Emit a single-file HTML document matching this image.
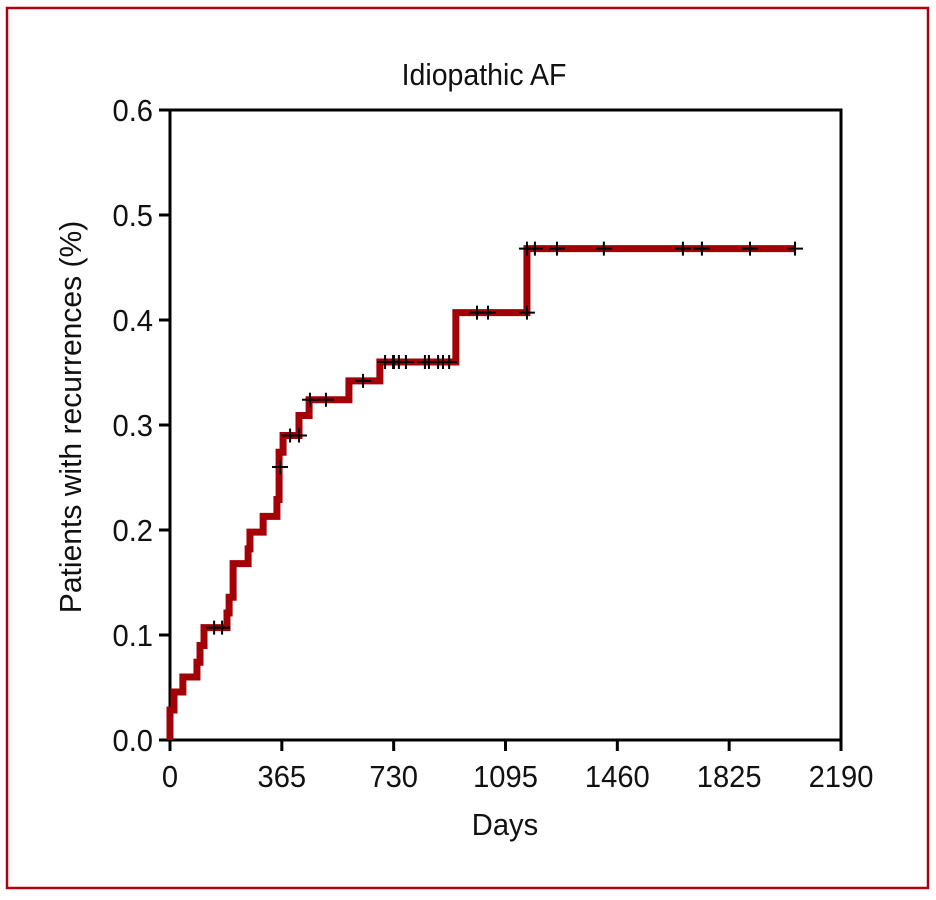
<!DOCTYPE html>
<html><head><meta charset="utf-8"><style>
html,body{margin:0;padding:0;background:#fff;}
svg{display:block;}
text{font-family:"Liberation Sans Narrow","Liberation Sans",sans-serif;fill:#111;}
</style></head><body>
<svg id="chart" width="936" height="900" viewBox="0 0 936 900">
<rect x="7" y="8" width="921" height="880" fill="none" stroke="#b00010" stroke-width="2.5"/>
<text transform="translate(484,85) scale(0.92,1)" font-size="31" text-anchor="middle">Idiopathic AF</text>
<text transform="translate(81,417) rotate(-90) scale(0.97,1)" font-size="31" text-anchor="middle">Patients with recurrences (%)</text>
<text transform="translate(505,835) scale(0.94,1)" font-size="31" text-anchor="middle">Days</text>
<g id="axes"></g>
<g id="series"></g>
<g id="censors"></g>
</svg>
<script>
const xTicks=[0,365,730,1095,1460,1825,2190];
const yTicks=[0,0.1,0.2,0.3,0.4,0.5,0.6];
const yTickLabels=["0.0","0.1","0.2","0.3","0.4","0.5","0.6"];
const stepDays=[0,0,13,42,88,98,111,186,193,206,255,261,304,349,356,369,421,454,584,685,933,1165];
const stepValues=[0,0.0286,0.0457,0.06,0.074,0.09,0.107,0.121,0.136,0.168,0.182,0.198,0.213,0.229,0.274,0.29,0.309,0.324,0.342,0.36,0.407,0.468];
const endDay=2040;
const censorDays=[144,170,359,392,421,457,509,630,702,728,731,747,770,832,845,875,891,911,1002,1038,1165,1165,1191,1263,1416,1674,1736,1893,2040];
const censorValues=[0.107,0.107,0.26,0.29,0.29,0.324,0.324,0.342,0.36,0.36,0.36,0.36,0.36,0.36,0.36,0.36,0.36,0.36,0.407,0.407,0.407,0.468,0.468,0.468,0.468,0.468,0.468,0.468,0.468];
const X0=170,X1=841,Y0=740,Y1=110;
const sx=d=>X0+d*(X1-X0)/2190;
const sy=v=>Y0-v*(Y0-Y1)/0.6;
const NS="http://www.w3.org/2000/svg";
function mk(tag,attrs,parent){const e=document.createElementNS(NS,tag);for(const k in attrs)e.setAttribute(k,attrs[k]);parent.appendChild(e);return e;}
const axes=document.getElementById('axes');
const box=mk('rect',{x:X0,y:Y1,width:X1-X0,height:Y0-Y1,fill:'none',stroke:'#000','stroke-width':3},axes);


xTicks.forEach((t,i)=>{
 const l=mk('line',{x1:sx(t),x2:sx(t),y1:Y0,y2:Y0+11,stroke:'#000','stroke-width':3},axes);
 
 
 const tx=mk('text',{transform:`translate(${sx(t)},787) scale(0.94,1)`,'font-size':31,'text-anchor':'middle'},axes);
 tx.textContent=t;
 
 
});
yTicks.forEach((t,i)=>{
 const l=mk('line',{x1:X0-11,x2:X0,y1:sy(t),y2:sy(t),stroke:'#000','stroke-width':3},axes);
 
 
 const tx=mk('text',{transform:`translate(${X0-17},${sy(t)+11}) scale(0.94,1)`,'font-size':31,'text-anchor':'end'},axes);
 tx.textContent=yTickLabels[i];
 
 
});
let d='M'+sx(stepDays[0])+' '+sy(stepValues[0]);
for(let i=1;i<stepDays.length;i++){d+=' H'+sx(stepDays[i])+' V'+sy(stepValues[i]);}
d+=' H'+sx(endDay);
const p=mk('path',{d:d,fill:'none',stroke:'#a30008','stroke-width':7,'stroke-linejoin':'miter'},document.getElementById('series'));


const cg=document.getElementById('censors');
censorDays.forEach((c,i)=>{
 const x=sx(c),y=sy(censorValues[i]);
 const m=mk('path',{d:`M${x-8} ${y}H${x+8}M${x} ${y-7}V${y+7}`,stroke:'#000','stroke-width':2,fill:'none'},cg);
 
 
});
</script>
</body></html>
